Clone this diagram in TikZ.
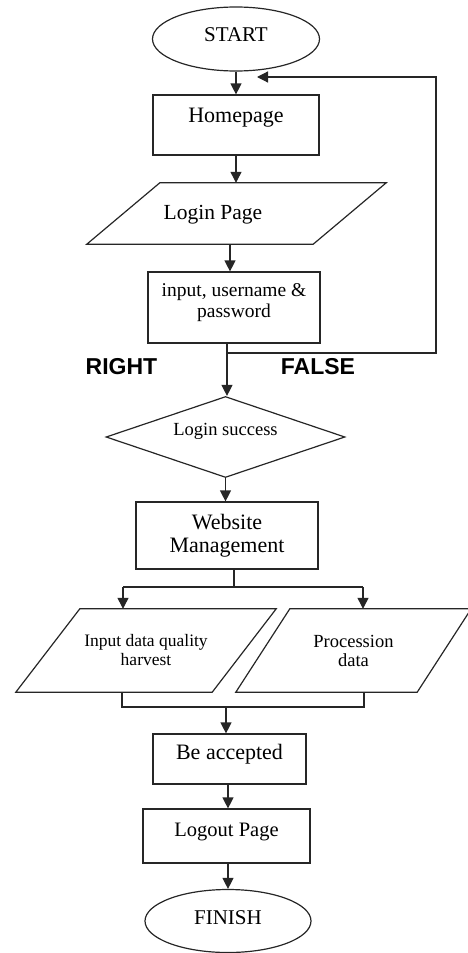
\documentclass[tikz,border=0pt]{standalone}
\usepackage{fontspec}
\setmainfont{Liberation Serif}
\setsansfont{Liberation Sans}
\usetikzlibrary{shapes.geometric,arrows.meta}
\newcommand\fsz[2]{\fontsize{#1}{#2}\selectfont}
\begin{document}
\begin{tikzpicture}[x=1pt,y=-1pt,
  ln/.style={draw=black!85, line width=1.2pt},
  arr/.style={ln, -{Triangle[length=11pt,width=11pt]}},
  box/.style={ln, rectangle, inner sep=0pt, align=center},
  oval/.style={ln, ellipse, inner sep=0pt},
  body/.style={rectangle, inner sep=0pt, align=center},
  lbl/.style={inner sep=0pt, align=center, text=black},
  tag/.style={inner sep=0pt, font=\sffamily\bfseries\fsz{23}{26}}
]
\useasboundingbox (0,0) rectangle (467,953);

% nodes
\node[oval, minimum width=167, minimum height=64,
  label={[lbl, name=startt, font=\fsz{21}{24}, yshift=4]center:START}] (start) at (236,39) {};
\node[box, minimum width=166, minimum height=60,
  label={[lbl, name=homet, font=\fsz{22}{24}, yshift=7]center:Homepage}] (home) at (236,125) {};
\node[body, minimum width=226, minimum height=61,
  label={[lbl, name=logint, font=\fsz{21.5}{24}, xshift=-23.5, yshift=-1.5]center:Login Page}] (login) at (236.5,213.5) {};
\draw[ln] ([xshift=36.5]login.north west) -- ([xshift=36.5]login.north east)
  -- ([xshift=-36.5]login.south east) -- ([xshift=-36.5]login.south west) -- cycle;
\node[box, minimum width=172, minimum height=71,
  label={[lbl, name=inpt, font=\fsz{19.5}{21}, yshift=5]center:input, username \&\\password}] (inp) at (234,307.5) {};
\node[ln, diamond, inner sep=0pt, minimum width=239, minimum height=81,
  label={[lbl, name=dect, font=\fsz{18.5}{21}, yshift=6]center:Login success}] (dec) at (225.5,437) {};
\node[box, minimum width=182, minimum height=67, font=\fsz{22}{23}] (web) at (227,535.5) {Website\\Management};
\node[body, minimum width=196, minimum height=83, font=\fsz{17.5}{19}] (inq) at (146,650.5) {Input data quality\\harvest};
\draw[ln] ([xshift=32]inq.north west) -- ([xshift=32]inq.north east)
  -- ([xshift=-32]inq.south east) -- ([xshift=-32]inq.south west) -- cycle;
\node[body, minimum width=181, minimum height=83, font=\fsz{18.5}{19}] (prc) at (353.5,650.5) {Procession\\data};
\draw[ln] ([xshift=27]prc.north west) -- ([xshift=27]prc.north east)
  -- ([xshift=-27]prc.south east) -- ([xshift=-27]prc.south west) -- cycle;
\node[box, minimum width=153, minimum height=50,
  label={[lbl, name=acct, font=\fsz{22}{24}, yshift=5]center:Be accepted}] (acc) at (229.5,759) {};
\node[box, minimum width=167, minimum height=54,
  label={[lbl, name=outt, font=\fsz{20.5}{24}, yshift=4]center:Logout Page}] (out) at (226.5,836) {};
\node[oval, minimum width=166, minimum height=63,
  label={[lbl, name=fint, font=\fsz{21}{24}, yshift=3]center:FINISH}] (fin) at (228,921) {};

\node[tag] (right) at (121.5,367) {RIGHT};
\node[tag] (false) at (318,367) {FALSE};

% connectors
\draw[arr] (start.south) -- (home.north);
\draw[arr] (home.south) -- (home.south |- login.north);
\coordinate (c1) at ([xshift=-4]inp.north);
\draw[arr] (c1 |- login.south) -- (c1);
\coordinate (J) at (227,353);
\coordinate (R) at (436,353);
\coordinate (T) at (436,77);
\coordinate (L) at (257,77);
\draw[ln] (inp.south -| J) -- (J);
\draw[arr] (J) -- (J |- dec.north);
\draw[arr] (J) -- (R) -- (T) -- (L);
\draw[arr] (dec.south) -- (dec.south |- web.north);
\coordinate (S) at (234,587);
\coordinate (SL) at (123,587);
\coordinate (SR) at (363,587);
\draw[ln] (web.south -| S) -- (S);
\draw[ln] (SL) -- (SR);
\draw[arr] (SL) -- (SL |- inq.north);
\draw[arr] (SR) -- (SR |- prc.north);
\coordinate (JL) at (122,707);
\coordinate (JR) at (364,707);
\coordinate (JM) at (226,707);
\draw[ln] (JL |- inq.south) -- (JL) -- (JR) -- (JR |- prc.south);
\draw[arr] (JM) -- (JM |- acc.north);
\coordinate (K) at (228,800);
\draw[arr] (acc.south -| K) -- (K |- out.north);
\draw[arr] (out.south -| fin.north) -- (fin.north);
\end{tikzpicture}
\end{document}
